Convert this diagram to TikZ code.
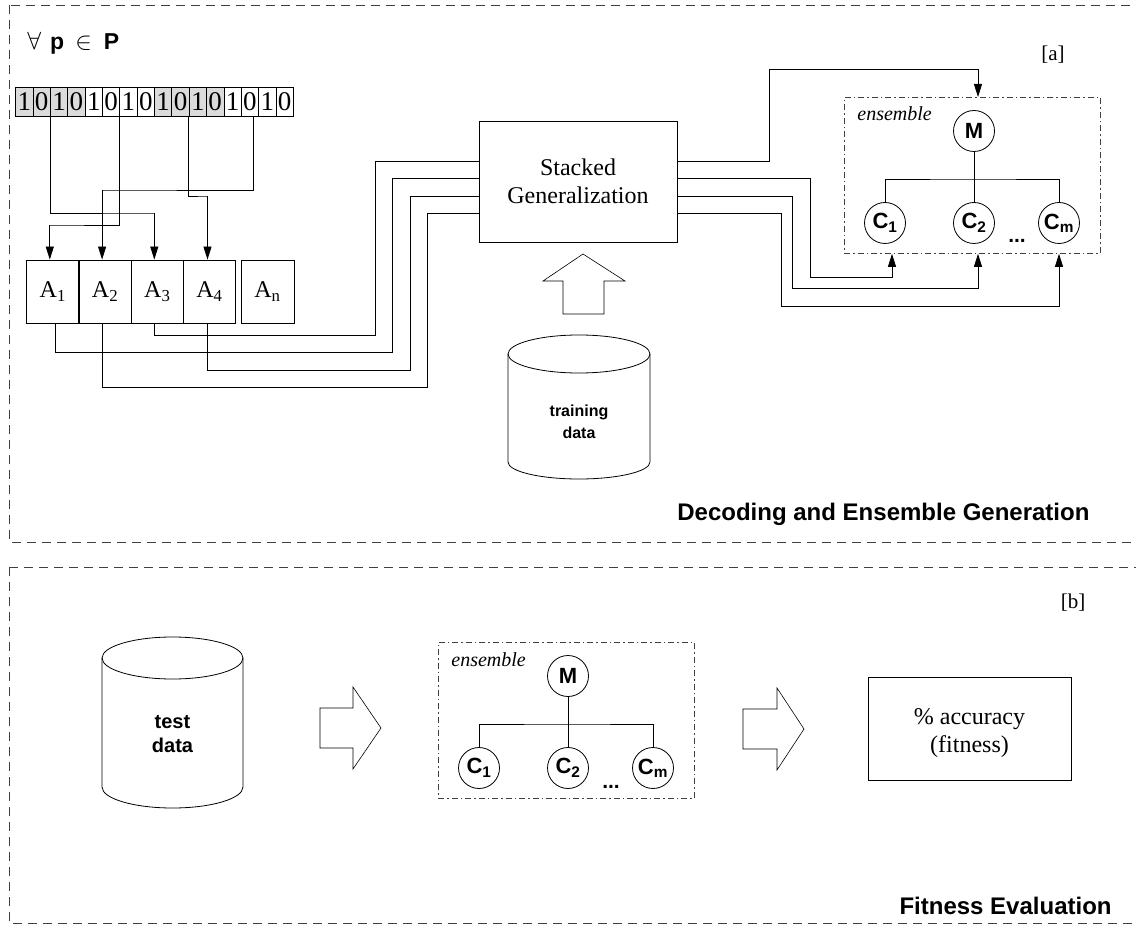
\documentclass[tikz,border=0pt]{standalone}
\usepackage{fontspec}
\setmainfont{Liberation Serif}
\setsansfont{Liberation Sans}
\usetikzlibrary{arrows.meta,calc}
\colorlet{gcol1}{black!14}
\colorlet{gcol0}{white}
\begin{document}
\begin{tikzpicture}[x=1pt,y=-1pt, line width=0.8pt,
  arr/.style={-{Triangle[length=13pt,width=8pt]}},
  bit/.style={draw, minimum width=17.35pt, minimum height=29pt, inner sep=0pt, font=\fontsize{27}{27}\selectfont},
  abox/.style={draw, minimum width=52pt, minimum height=63pt, inner sep=0pt, font=\fontsize{24}{28}\selectfont},
  circ/.style={draw, circle, minimum size=41pt, inner sep=0pt, font=\fontsize{22}{22}\selectfont\sffamily\bfseries},
  ensbox/.style={draw, black!75, dash pattern=on 6pt off 3pt on 1.5pt off 3pt, minimum width=256pt, minimum height=156pt, inner sep=0pt},
  panel/.style={draw, black!75, dash pattern=on 9pt off 6pt},
  serifbig/.style={font=\fontsize{24}{28}\selectfont, align=center},
  sansbold/.style={font=\fontsize{24}{28}\selectfont\sffamily\bfseries},
  blockarrow/.style={draw, line width=0.6pt},
  ens/.pic={
    \node[ensbox, anchor=north west] (-box) at (0,0) {};
    \node[font=\fontsize{20}{24}\selectfont\itshape, anchor=base west, inner sep=0pt] (-lab) at (13,24) {ensemble};
    \node[circ] (-M) at (130,34) {M};
    \node[circ] (-C1) at (41,126) {C\textsubscript{1}};
    \node[circ] (-C2) at (130,126) {C\textsubscript{2}};
    \node[circ] (-Cm) at (215,126) {C\textsubscript{m}};
    \node[font=\fontsize{21}{21}\selectfont\sffamily\bfseries, anchor=base, inner sep=0pt] (-dots) at (173,146) {...};
    \draw (-M.south) -- (-C2.north);
    \draw (-C1.north) |- (130,82) -| (-Cm.north);
  }
]
\clip (0,0) rectangle (1136,933);

% panels
\draw[panel] (9,5) rectangle (1150,542);
\draw[panel] (9,567) rectangle (1150,923);

% header
\node[anchor=base west, inner sep=0pt, font=\fontsize{23}{26}\selectfont] (forall) at (27,50)
  {$\forall$\hspace{9pt}{\sffamily\bfseries p}\hspace{11pt}$\in$\hspace{12pt}{\sffamily\bfseries P}};
\node[font=\fontsize{21}{24}\selectfont] (la) at (1053,55) {[a]};
\node[font=\fontsize{21}{24}\selectfont] (lb) at (1073,603) {[b]};

% bit string
\foreach \i/\d/\g in {0/1/1,1/0/1,2/1/1,3/0/1,4/1/0,5/0/0,6/1/0,7/0/0,8/1/1,9/0/1,10/1/1,11/0/1,12/1/0,13/0/0,14/1/0,15/0/0} {
  \node[bit, fill=gcol\g] (b\i) at ({24.375+17.35*\i},101.5) {\d};
}

% attribute boxes
\node[abox] (A1) at (52.8,291.5) {A\textsubscript{1}};
\node[abox] (A2) at (105.1,291.5) {A\textsubscript{2}};
\node[abox] (A3) at (157.3,291.5) {A\textsubscript{3}};
\node[abox] (A4) at (209.5,291.5) {A\textsubscript{4}};
\node[abox, minimum width=53pt] (An) at (267.5,291.5) {A\textsubscript{n}};

\coordinate (A1in) at ($(A1.north)+(-3,0)$);
\coordinate (A2in) at ($(A2.north)+(-3,0)$);
\coordinate (A3in) at ($(A3.north)+(-3,0)$);
\coordinate (A4in) at ($(A4.north)+(-2,0)$);
\coordinate (A1out) at ($(A1.south)+(3,0)$);
\coordinate (A2out) at ($(A2.south)+(-3,0)$);
\coordinate (A3out) at ($(A3.south)+(-3,0)$);
\coordinate (A4out) at ($(A4.south)+(-2,0)$);
\coordinate (b13s) at ($(b13.south)+(3,0)$);

% bits to attributes
\draw[arr] (b2.south west) |- (154,213) -| (A3in);
\draw[arr] (b6.south west) |- (50,225) -| (A1in);
\draw[arr] (b10.south west) |- (207,196) -| (A4in);
\draw[arr] (b13s) |- (102,190) -| (A2in);

% stacked generalization
\node[draw, serifbig, minimum width=198pt, minimum height=121pt] (SG) at (578,181.5) {Stacked\\Generalization};
\foreach \k/\dy in {1/41,2/58,3/76,4/93} {
  \coordinate (SGw\k) at ($(SG.north west)+(0,\dy)$);
  \coordinate (SGe\k) at ($(SG.north east)+(0,\dy)$);
}

% attributes to stacked generalization
\draw (A3out) |- (375,335) |- (SGw1);
\draw (A1out) |- (392,352) |- (SGw2);
\draw (A4out) |- (410,370) |- (SGw3);
\draw (A2out) |- (427,387) |- (SGw4);

% up block arrow
\draw[blockarrow] (583,254) -- (625,281) -- (604,281) -- (604,314) -- (563,314) -- (563,281) -- (543,281) -- cycle;

% training data cylinder
\draw (508,354) -- (508,462) arc[start angle=180,end angle=360,x radius=71pt,y radius=17pt] -- (650,354);
\draw (579,354) ellipse [x radius=71pt, y radius=19pt];
\node[font=\fontsize{16}{22}\selectfont\sffamily\bfseries, align=center] (train) at (579,422) {training\\data};

% ensembles
\pic (e1) at (844,97) {ens};
\pic (e2) at (438,642) {ens};

\coordinate (e1Min) at ($(e1-box.north west)+(134,0)$);
\coordinate (e1C1in) at ($(e1-box.south west)+(48,0)$);
\coordinate (e1C2in) at ($(e1-box.south west)+(134,0)$);
\coordinate (e1Cmin) at ($(e1-box.south west)+(215,0)$);

\draw[arr] (SGe1) -| (769,69) -| (e1Min);
\draw[arr] (SGe2) -| (810,277) -| (e1C1in);
\draw[arr] (SGe3) -| (792,288) -| (e1C2in);
\draw[arr] (SGe4) -| (781,306) -| (e1Cmin);

\node[sansbold, anchor=base west, inner sep=0pt] (t1) at (677,520) {Decoding and Ensemble Generation};

% bottom panel
\draw (102,658) -- (102,787) arc[start angle=180,end angle=360,x radius=70.5pt,y radius=21pt] -- (243,658);
\draw (172.5,658) ellipse [x radius=70.5pt, y radius=21pt];
\node[font=\fontsize{20}{24}\selectfont\sffamily\bfseries, align=center] (test) at (172.5,734) {test\\data};

\draw[blockarrow] (320,708) -- (353,708) -- (353,687) -- (381,728) -- (353,769) -- (353,748) -- (320,748) -- cycle;
\draw[blockarrow] (743,709) -- (777,709) -- (777,688) -- (804,729) -- (777,770) -- (777,749) -- (743,749) -- cycle;

\node[draw, minimum width=203pt, minimum height=103pt] (acc) at (969.5,728.5) {};
\node[serifbig] (acctext) at (969.5,733) {\% accuracy\\(fitness)};

\node[sansbold, anchor=base east, inner sep=0pt] (t2) at (1112,914) {Fitness Evaluation};
\end{tikzpicture}
\end{document}
